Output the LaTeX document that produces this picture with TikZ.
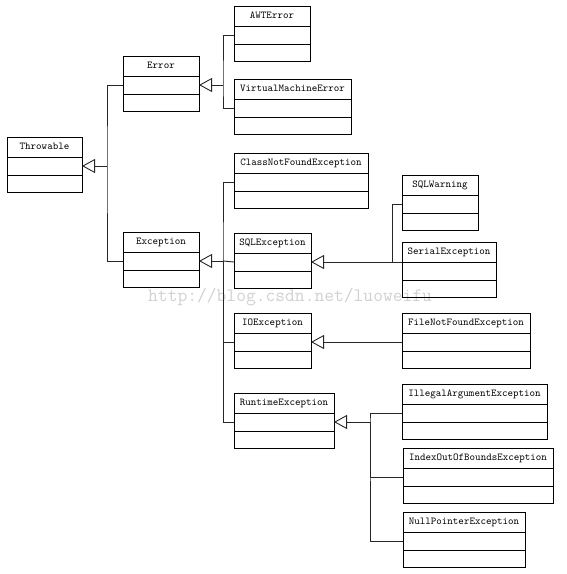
\documentclass[tikz,border=0pt]{standalone}
\usepackage{tikz}
\usetikzlibrary{arrows.meta,calc,positioning}
\newcommand{\classbox}[5]{%
        \node[classname, minimum width=#4pt] (#1) at (#2,#3) {#5};
        \node[classpart, minimum width=#4pt, minimum height=18pt, below=0pt of #1] (#1-a) {};
        \node[classpart, minimum width=#4pt, minimum height=17pt, below=0pt of #1-a] (#1-b) {};
}

\begin{document}
\begin{tikzpicture}[x=1pt, y=-1pt,
        classname/.style={draw, line width=0.8pt, anchor=north west, inner sep=0pt, outer sep=0pt,
                minimum height=20pt, text height=7.5pt, text depth=2pt,
                font=\ttfamily\fontsize{10.5}{12}\selectfont},
        classpart/.style={draw, line width=0.8pt, inner sep=0pt, outer sep=0pt},
        conn/.style={line width=0.9pt, black!85},
        genarrow/.style={conn, -{Triangle[open, length=13pt, width=14pt]}},
        wmark/.style={anchor=west, inner sep=0pt, text=black!18,
                font=\ttfamily\fontsize{19}{19}\selectfont}]
            \useasboundingbox[fill=white] (0,0) rectangle (566,574);
            \node[wmark] (wm) at (148,297) {http://blog.csdn.net/luoweifu};

            \classbox{thr}{7}{137}{75}{Throwable}
            \classbox{err}{123}{56}{76}{Error}
            \classbox{awt}{234}{6}{76}{AWTError}
            \classbox{vme}{234}{79}{117}{VirtualMachineError}
            \classbox{exc}{123}{232}{76}{Exception}
            \classbox{cnf}{234}{153}{134}{ClassNotFoundException}
            \classbox{sql}{234}{233}{77}{SQLException}
            \classbox{sqw}{402}{175}{76}{SQLWarning}
            \classbox{ser}{402}{242}{94}{SerialException}
            \classbox{io}{234}{313}{77}{IOException}
            \classbox{fnf}{402}{313}{128}{FileNotFoundException}
            \classbox{rte}{234}{393}{100}{RuntimeException}
            \classbox{ill}{402}{384}{145}{IllegalArgumentException}
            \classbox{iob}{403}{448}{150}{IndexOutOfBoundsException}
            \classbox{npe}{403}{512}{122}{NullPointerException}

            \coordinate (jthr) at ($(thr-a.east)+(25,0)$);
            \coordinate (jerr) at ($(err-a.east)+(24,0)$);
            \coordinate (jexc) at ($(exc-a.east)+(24,0)$);
            \coordinate (jsql) at ($(sql-a.east)+(81,0)$);
            \coordinate (jrte) at ($(rte-a.east)+(36,0)$);

            \draw[genarrow] (jthr) -- (thr-a.east);
            \draw[conn] (err-a.west) -| (jthr) |- (exc-a.west);

            \draw[genarrow] (jerr) -- (err-a.east);
            \draw[conn] (awt-a.west) -| (jerr) |- (vme-a.west);

            \draw[genarrow] (jexc) -- (exc-a.east);
            \draw[conn] (cnf-a.west) -| (jexc) |- (rte-a.west);
            \draw[conn] (jexc) -- (sql-a.west);
            \draw[conn] (jexc) |- (io-a.west);

            \draw[genarrow] (jsql) -- (sql-a.east);
            \draw[conn] (sqw-a.west) -| (jsql) -- (ser.south west);

            \draw[genarrow] (fnf-a.west) -- (io-a.east);

            \draw[genarrow] (jrte) -- (rte-a.east);
            \draw[conn] (ill-a.west) -| (jrte) |- (npe-a.west);
            \draw[conn] (jrte) |- (iob-a.west);
          \end{tikzpicture}
\end{document}
